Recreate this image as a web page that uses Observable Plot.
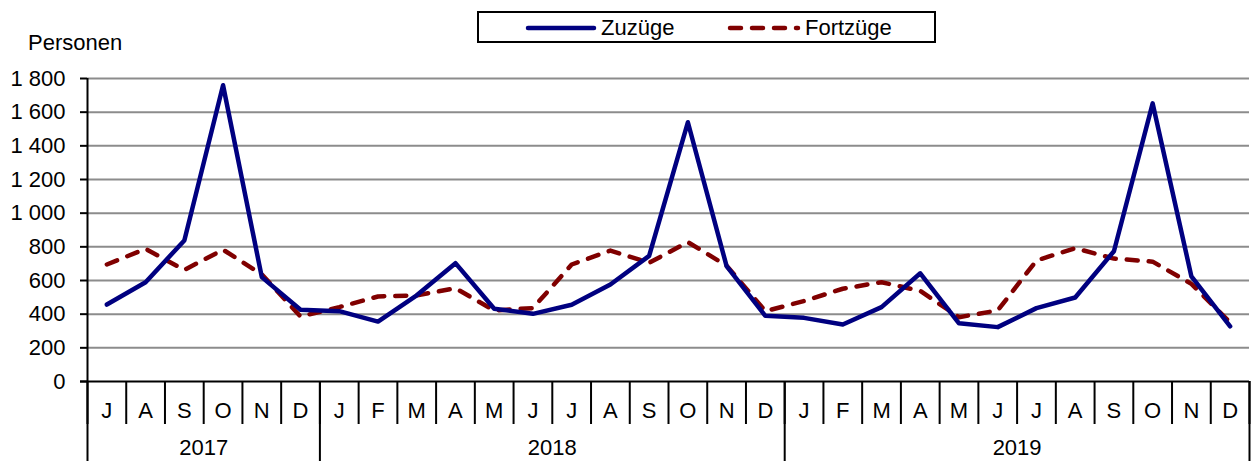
<!DOCTYPE html>
<html>
<head>
<meta charset="utf-8">
<script src="https://cdn.jsdelivr.net/npm/d3@7"></script>
<script src="https://cdn.jsdelivr.net/npm/@observablehq/plot@0.6"></script>
<style>
  html, body { margin: 0; padding: 0; background: #fff; }
  #wrap { position: relative; width: 1251px; height: 461px; font-family: "Liberation Sans", Arial, sans-serif; }
  #legend { position: absolute; left: 477px; top: 11px; width: 455px; height: 28px; border: 2px solid #000; background: #fff; font-size: 22px; }
  #legend .item { position: absolute; top: 0; height: 28px; line-height: 28px; white-space: nowrap; }
  #legend svg { vertical-align: middle; margin-right: 4px; }
  #ylabel { position: absolute; left: 28px; top: 30px; font-size: 22px; }
</style>
</head>
<body>
<div id="wrap"></div>
<script>
// Data
const monthLetters = ["J","A","S","O","N","D",
  "J","F","M","A","M","J","J","A","S","O","N","D",
  "J","F","M","A","M","J","J","A","S","O","N","D"];
const years = ["2017", "2018", "2019"];
const yearStarts = [0, 6, 18, 30];
const zuzuege = [457, 590, 838, 1760, 620, 426,
  418, 356, 512, 703, 432, 402, 456, 576, 746, 1540, 685, 390,
  378, 339, 442, 643, 346, 323, 436, 499, 774, 1652, 624, 328];
const fortzuege = [695, 788, 663, 783, 636, 386,
  442, 505, 512, 554, 422, 436, 695, 778, 705, 828, 688, 418,
  478, 551, 590, 538, 382, 422, 719, 792, 730, 712, 580, 350];
const yTicks = [0, 200, 400, 600, 800, 1000, 1200, 1400, 1600, 1800];
const seriesNames = ["Zuzüge", "Fortzüge"];
const seriesColors = ["#000080", "#800000"];

const rows = [];
monthLetters.forEach((m, i) => {
  rows.push({i, pos: i + 0.5, series: seriesNames[0], value: zuzuege[i]});
});
monthLetters.forEach((m, i) => {
  rows.push({i, pos: i + 0.5, series: seriesNames[1], value: fortzuege[i]});
});
const centers = monthLetters.map((m, i) => i + 0.5);
const yearCenters = years.map((y, k) => (yearStarts[k] + yearStarts[k + 1]) / 2);
const fmt = d => d3.format(",")(d).replace(/,/g, "\u00a0");

const font = "Liberation Sans, Arial, sans-serif";
const fs = 22;
const chart = Plot.plot({
  width: 1251,
  height: 461,
  marginLeft: 87,
  marginRight: 2,
  marginTop: 78,
  marginBottom: 80,
  style: {fontFamily: font, fontSize: fs + "px", background: "white", color: "#000", overflow: "visible"},
  x: {type: "linear", domain: [0, monthLetters.length]},
  y: {domain: [0, 1800]},
  marks: [
    Plot.ruleY(yTicks.filter(d => d > 0), {stroke: "#8c8c8c", strokeWidth: 2}),
    Plot.axisY({ticks: yTicks, tickFormat: fmt, tickSize: 7, tickPadding: 15, fontSize: fs, stroke: "#000", strokeWidth: 2, label: null}),
    Plot.axisX({ticks: d3.range(0, monthLetters.length + 1), tickFormat: () => "", tickSize: 43, stroke: "#000", strokeWidth: 2, label: null}),
    Plot.axisX({ticks: yearStarts, tickFormat: () => "", tickSize: 80, stroke: "#000", strokeWidth: 2, label: null}),
    Plot.axisX({ticks: centers, tickFormat: d => monthLetters[Math.floor(d)], tickSize: 0, tickPadding: 21, fontSize: fs, label: null}),
    Plot.axisX({ticks: yearCenters, tickFormat: d => years[yearCenters.indexOf(d)], tickSize: 0, tickPadding: 58, fontSize: fs, label: null}),
    Plot.ruleX([0], {stroke: "#000", strokeWidth: 2}),
    Plot.ruleY([0], {stroke: "#000", strokeWidth: 2, x1: -0.18, x2: monthLetters.length}),
    Plot.line(rows.filter(d => d.series === seriesNames[1]), {x: "pos", y: "value", stroke: seriesColors[1], strokeWidth: 4.5, strokeDasharray: "11,11", strokeLinecap: "round", strokeLinejoin: "round"}),
    Plot.line(rows.filter(d => d.series === seriesNames[0]), {x: "pos", y: "value", stroke: seriesColors[0], strokeWidth: 4.5, strokeLinecap: "round", strokeLinejoin: "round"})
  ]
});

const wrap = document.getElementById("wrap");
wrap.appendChild(chart);

const ylabel = document.createElement("div");
ylabel.id = "ylabel";
ylabel.textContent = "Personen";
wrap.appendChild(ylabel);

const legend = document.createElement("div");
legend.id = "legend";
const items = [
  {name: seriesNames[0], color: seriesColors[0], dash: null, left: 46, sw: 72},
  {name: seriesNames[1], color: seriesColors[1], dash: "11,11", left: 248, sw: 74}
];
items.forEach(it => {
  const d = document.createElement("div");
  d.className = "item";
  d.style.left = it.left + "px";
  const ns = "http://www.w3.org/2000/svg";
  const s = document.createElementNS(ns, "svg");
  s.setAttribute("width", it.sw);
  s.setAttribute("height", 10);
  const l = document.createElementNS(ns, "line");
  l.setAttribute("x1", 3); l.setAttribute("x2", it.sw - 3);
  l.setAttribute("y1", 5); l.setAttribute("y2", 5);
  l.setAttribute("stroke", it.color);
  l.setAttribute("stroke-width", 4.5);
  l.setAttribute("stroke-linecap", "round");
  if (it.dash) l.setAttribute("stroke-dasharray", it.dash);
  s.appendChild(l);
  d.appendChild(s);
  const t = document.createElement("span");
  t.textContent = it.name;
  t.style.verticalAlign = "middle";
  d.appendChild(t);
  legend.appendChild(d);
});
wrap.appendChild(legend);
</script>
</body>
</html>
